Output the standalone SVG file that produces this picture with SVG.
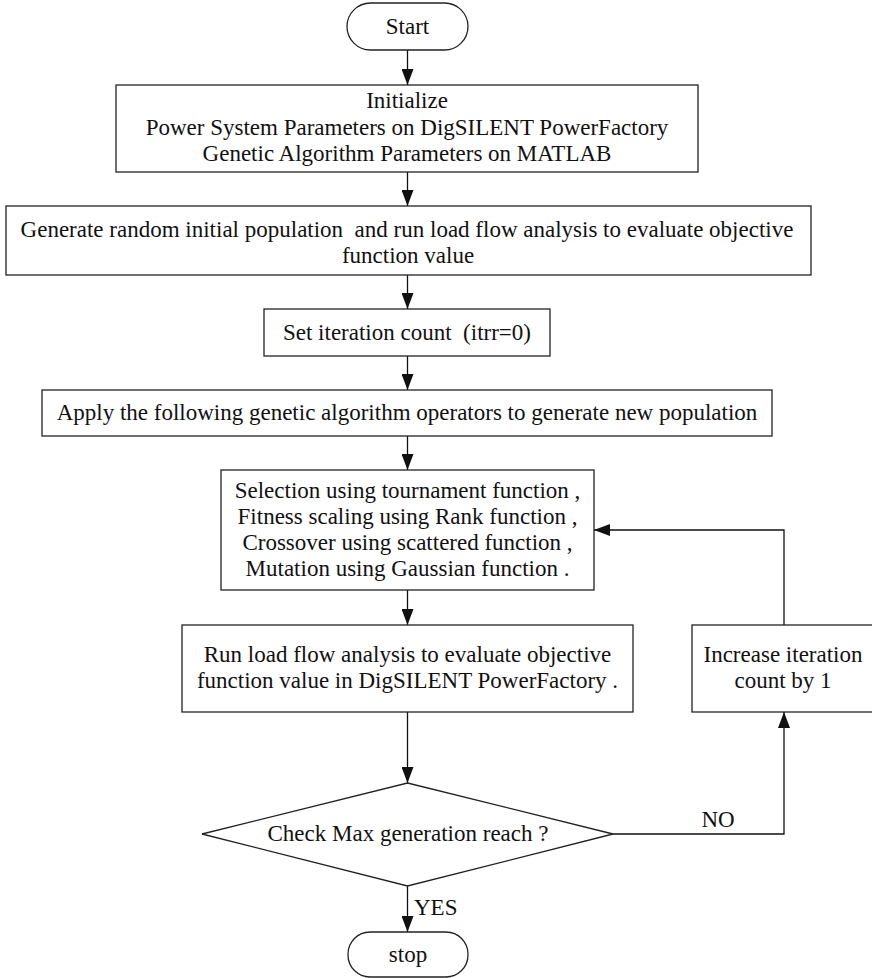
<svg xmlns="http://www.w3.org/2000/svg" width="872" height="978" viewBox="0 0 872 978">
<style>
.box{fill:#fff;stroke:#222;stroke-width:1.3}
.ln{fill:none;stroke:#111;stroke-width:1.3}
text{font-family:"Liberation Serif","Times New Roman",serif;font-size:23px;fill:#111;text-anchor:middle;white-space:pre}
.l{text-anchor:start}
</style>
<defs>
<marker id="ah" markerUnits="userSpaceOnUse" markerWidth="16" markerHeight="12" refX="16" refY="6" orient="auto">
<path d="M0,0 L16,6 L0,12 z" fill="#111"/>
</marker>
</defs>
<rect width="872" height="978" fill="#fff"/>
<g id="connectors">
<line class="ln" x1="407.5" y1="50" x2="407.5" y2="85" marker-end="url(#ah)"/>
<line class="ln" x1="407.5" y1="172" x2="407.5" y2="206" marker-end="url(#ah)"/>
<line class="ln" x1="407.5" y1="275" x2="407.5" y2="309" marker-end="url(#ah)"/>
<line class="ln" x1="407.5" y1="356" x2="407.5" y2="390" marker-end="url(#ah)"/>
<line class="ln" x1="407.5" y1="436" x2="407.5" y2="470" marker-end="url(#ah)"/>
<line class="ln" x1="407.5" y1="590" x2="407.5" y2="625" marker-end="url(#ah)"/>
<line class="ln" x1="407.5" y1="712" x2="407.5" y2="783" marker-end="url(#ah)"/>
<line class="ln" x1="407.5" y1="886" x2="407.5" y2="932" marker-end="url(#ah)"/>
<polyline class="ln" points="613,834 784,834 784,712" marker-end="url(#ah)"/>
<polyline class="ln" points="784,625 784,530 594,530" marker-end="url(#ah)"/>
<text x="718" y="827">NO</text>
<text class="l" x="414" y="915">YES</text>
</g>
<g id="start">
<rect class="box" x="347" y="3" width="121" height="47" rx="23.5"/>
<text x="407.5" y="34">Start</text>
</g>
<g id="init">
<rect class="box" x="116" y="85" width="582" height="87"/>
<text x="407" y="108">Initialize</text>
<text x="407" y="135">Power System Parameters on DigSILENT PowerFactory</text>
<text x="407" y="161">Genetic Algorithm Parameters on MATLAB</text>
</g>
<g id="generate">
<rect class="box" x="6" y="206" width="805" height="69"/>
<text x="407" y="237">Generate random initial population  and run load flow analysis to evaluate objective</text>
<text x="408" y="263">function value</text>
</g>
<g id="setiter">
<rect class="box" x="264" y="309" width="286" height="47"/>
<text x="407" y="340">Set iteration count  (itrr=0)</text>
</g>
<g id="apply">
<rect class="box" x="42" y="390" width="730" height="46"/>
<text x="407" y="420">Apply the following genetic algorithm operators to generate new population</text>
</g>
<g id="selection">
<rect class="box" x="221" y="470" width="373" height="120"/>
<text x="407.5" y="498">Selection using tournament function ,</text>
<text x="407.5" y="524">Fitness scaling using Rank function ,</text>
<text x="407.5" y="550">Crossover using scattered function ,</text>
<text x="407.5" y="576">Mutation using Gaussian function .</text>
</g>
<g id="runflow">
<rect class="box" x="182" y="625" width="451" height="87"/>
<text x="407.5" y="662">Run load flow analysis to evaluate objective</text>
<text x="407.5" y="688">function value in DigSILENT PowerFactory .</text>
</g>
<g id="increase">
<rect class="box" x="692" y="625" width="184" height="87"/>
<text x="783" y="662">Increase iteration</text>
<text x="783" y="688">count by 1</text>
</g>
<g id="check">
<polygon class="box" points="407.5,783 613,834 407.5,886 202,834"/>
<text x="408" y="841">Check Max generation reach ?</text>
</g>
<g id="stop">
<rect class="box" x="348" y="932" width="120" height="45" rx="22"/>
<text x="408" y="962">stop</text>
</g>
</svg>
